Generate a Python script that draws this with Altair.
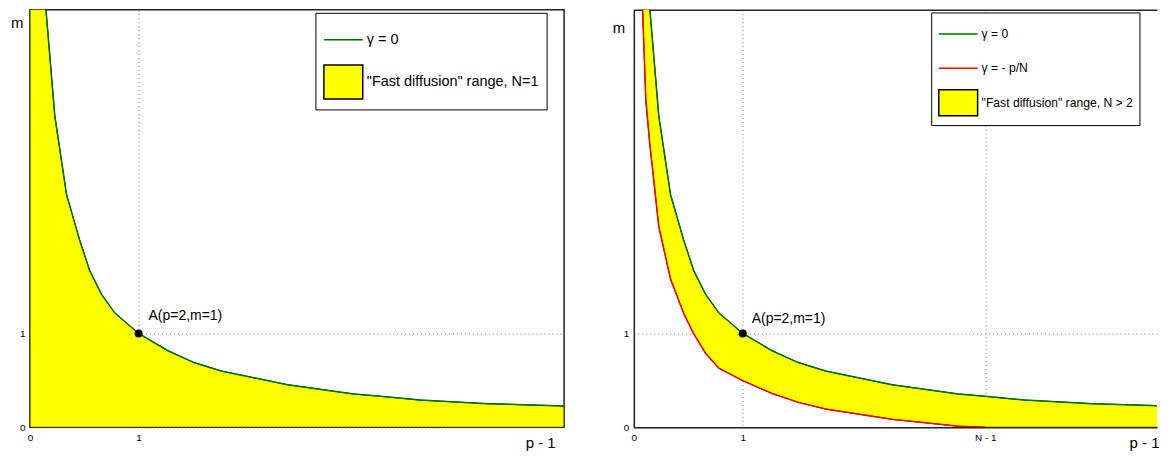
import altair as alt
import pandas as pd

FONT = "Liberation Sans, Arial, Helvetica, sans-serif"

# ---- values (x = p - 1, y = m) ----
P1 = [0.0, 0.079, 0.110, 0.144, 0.229, 0.337, 0.459, 0.550, 0.658, 0.780,
      1.0, 1.27, 1.51, 1.76, 2.37, 2.98, 3.227, 3.59, 4.21, 4.915]
# gamma = 0 curve (goes off the top of the plot towards p - 1 -> 0)
M_GAMMA0 = [10.0, 6.0, 5.0, 4.50, 3.32, 2.48, 1.99, 1.67, 1.42, 1.22,
            1.0, 0.816, 0.69, 0.60, 0.454, 0.355, 0.33, 0.29, 0.252, 0.227]
# gamma = -p/N curve (reaches m = 0 at p - 1 = N - 1)
M_GAMMA_PN = [None, 4.5, 3.49, 3.05, 2.14, 1.58, 1.21, 0.997, 0.79, 0.63,
              0.497, 0.36, 0.266, 0.195, 0.085, 0.012, 0.0, 0.0, 0.0, 0.0]

N_MINUS_1 = 3.227
A_P1 = [1.0]
A_M = [1.0]
A_LABEL = ["A(p=2,m=1)"]

LEFT_SERIES = ["\u03b3 = 0", "\"Fast diffusion\" range, N=1"]
RIGHT_SERIES = ["\u03b3 = 0", "\u03b3 = - p/N", "\"Fast diffusion\" range, N > 2"]

GREEN = "#007000"
RED = "#ff0000"
YELLOW = "#ffff00"
FRAME = "#222222"

df = pd.DataFrame({"p1": P1, "g0": M_GAMMA0, "gpn": M_GAMMA_PN})
dfA = pd.DataFrame({"p1": A_P1, "m": A_M, "label": A_LABEL})

H = 419
Y_MAX = 4.45
W_LEFT = 536
W_RIGHT = 525
X_MAX_LEFT = 4.915
X_MAX_RIGHT = 4.803


def x_axis(values, domain, label_expr=None):
    kw = dict(values=values, title="p - 1", titleX=527, titleY=20,
              titleAlign="right", titleBaseline="alphabetic", titleFontSize=15,
              titleFontWeight="normal", titleColor="black", titleFont=FONT,
              grid=True, gridDash=[1, 3], gridColor="#777777", gridWidth=1,
              ticks=False, domain=domain, domainColor=FRAME, domainWidth=1.5,
              labelFontSize=10, labelPadding=5,
              labelFlush=False, labelOverlap=False, labelColor="black",
              labelFont=FONT)
    if label_expr:
        kw["labelExpr"] = label_expr
    else:
        kw["format"] = "d"
    return alt.Axis(**kw)


def y_axis(tx, ty, domain):
    return alt.Axis(values=[0, 1], format="d", title="m", titleAngle=0, titleX=tx, titleY=ty,
                    titleAlign="center", titleBaseline="middle", titleFontSize=15,
                    titleFontWeight="normal", titleColor="black", titleFont=FONT,
                    grid=True, gridDash=[1, 3], gridColor="#777777", gridWidth=1,
                    ticks=False, domain=domain, domainColor=FRAME, domainWidth=1.5,
                    labelFontSize=10, labelPadding=5,
                    labelFlush=False, labelOverlap=False, labelColor="black",
                    labelFont=FONT)


def legend_layer(names, shapes, fills, strokes, lx, ly, pad, clip_h, rowpad, fsize, loff):
    def leg():
        return alt.Legend(title=None, orient="none", legendX=lx, legendY=ly,
                          strokeColor="black", fillColor="white", padding=pad,
                          symbolSize=1521, clipHeight=clip_h, rowPadding=rowpad,
                          labelFontSize=fsize, labelFont=FONT, labelColor="black",
                          labelLimit=400, labelOffset=loff, symbolOpacity=1,
                          symbolStrokeWidth=1.5)
    sdf = pd.DataFrame({"series": names})
    return alt.Chart(sdf).transform_filter("false").mark_point(filled=True, opacity=1).encode(
        shape=alt.Shape("series:N", scale=alt.Scale(domain=names, range=shapes), legend=leg()),
        fill=alt.Fill("series:N", scale=alt.Scale(domain=names, range=fills), legend=leg()),
        stroke=alt.Stroke("series:N", scale=alt.Scale(domain=names, range=strokes), legend=leg()),
    )


LINE_PATH = "M-1,0H1"

# ---------------- left panel ----------------
xl = alt.X("p1:Q", scale=alt.Scale(domain=[0, X_MAX_LEFT], nice=False, zero=False),
           axis=x_axis([0, 1], False))
yl = alt.Y("g0:Q", scale=alt.Scale(domain=[0, Y_MAX], nice=False), axis=y_axis(-13.3, 13.2, False))

left_area = alt.Chart(df).mark_area(color=YELLOW, stroke="black", strokeWidth=1, clip=True, opacity=1).encode(
    x=xl, y=yl, y2=alt.datum(0))
left_line = alt.Chart(df).mark_line(color=GREEN, strokeWidth=1.5, clip=True).encode(x="p1:Q", y="g0:Q")
left_pt = alt.Chart(dfA).mark_circle(size=64, color="black", opacity=1).encode(x="p1:Q", y="m:Q")
left_txt = alt.Chart(dfA).mark_text(align="left", baseline="middle", dx=10, dy=-17.5,
                                    fontSize=14, font=FONT, color="black").encode(
    x="p1:Q", y="m:Q", text="label:N")
left_leg = legend_layer(LEFT_SERIES, [LINE_PATH, "M-1,-0.872H1V0.872H-1Z"],
                        ["transparent", YELLOW], [GREEN, "black"],
                        286.5, 3, 7.5, 39, 3.5, 14.5, 3)

left = alt.layer(left_area, left_line, left_pt, left_txt, left_leg).properties(
    width=W_LEFT, height=H, view=alt.ViewBackground(stroke=FRAME, strokeWidth=1.5))

# ---------------- right panel ----------------
xr = alt.X("p1:Q", scale=alt.Scale(domain=[0, X_MAX_RIGHT], nice=False, zero=False),
           axis=x_axis([0, 1, N_MINUS_1], True,
                       "datum.value == 0 ? '0' : (datum.value == 1 ? '1' : 'N - 1')"))
yr = alt.Y("g0:Q", scale=alt.Scale(domain=[0, Y_MAX], nice=False), axis=y_axis(-15.5, 17.8, True))
x_top = alt.X("p1:Q", axis=alt.Axis(orient="top", labels=False, ticks=False, grid=False,
                                     title=None, domain=True, domainColor=FRAME, domainWidth=1.5))
x_none = alt.X("p1:Q", axis=None)

right_area = alt.Chart(df).transform_filter("datum.gpn != null").mark_area(
    color=YELLOW, stroke="black", strokeWidth=1, clip=True, opacity=1).encode(
    x=xr, y=yr, y2="gpn:Q")
right_green = alt.Chart(df).mark_line(color=GREEN, strokeWidth=1.5, clip=True).encode(
    x=x_top, y=alt.Y("g0:Q", axis=None))
right_red = alt.Chart(df).transform_filter(
    "datum.gpn != null && datum.p1 <= %f" % N_MINUS_1).mark_line(
    color=RED, strokeWidth=1.5, clip=True).encode(x=x_none, y=alt.Y("gpn:Q", axis=None))
right_pt = alt.Chart(dfA).mark_circle(size=64, color="black", opacity=1).encode(
    x=x_none, y=alt.Y("m:Q", axis=None))
right_txt = alt.Chart(dfA).mark_text(align="left", baseline="middle", dx=9, dy=-14.5,
                                     fontSize=14, font=FONT, color="black").encode(
    x=x_none, y=alt.Y("m:Q", axis=None), text="label:N")
right_leg = legend_layer(RIGHT_SERIES,
                         [LINE_PATH, LINE_PATH, "M-1,-0.667H1V0.667H-1Z"],
                         ["transparent", "transparent", YELLOW], [GREEN, RED, "black"],
                         298.4, 2.7, 6.6, 30, 4.5, 12.2, 3)

right = alt.layer(right_area, right_green, right_red, right_pt, right_txt, right_leg).resolve_axis(
    x="independent", y="independent").properties(
    width=W_RIGHT, height=H, view=alt.ViewBackground(stroke="transparent"))

chart = alt.hconcat(left, right, spacing=70, bounds="flush",
                    padding={"left": 1, "top": 0, "right": 0, "bottom": 0}).resolve_scale(
    shape="independent", fill="independent", stroke="independent").resolve_legend(
    shape="independent", fill="independent", stroke="independent").configure(
    font=FONT, background="white")

chart.save("out.html", embed_options={"renderer": "svg", "actions": False})
